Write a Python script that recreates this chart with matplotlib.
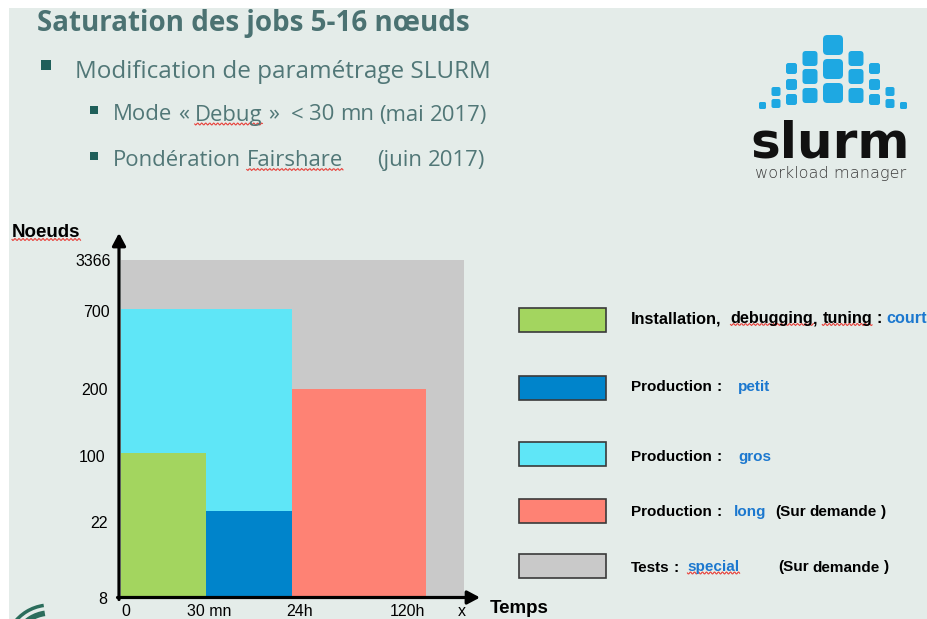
import re
import numpy as np
import matplotlib
matplotlib.use('Agg')
import matplotlib.pyplot as plt
from matplotlib.patches import Rectangle, FancyBboxPatch, Arc

# ---- data -------------------------------------------------------------
y_ticks = [8, 22, 100, 200, 700, 3366]          # noeuds
x_ticks = [0, 0.5, 24, 120]                      # heures
x_tick_labels = ['0', '30 mn', '24h', '120h']

# classes de jobs (ordre de dessin)
job_class = ['special', 'gros', 'court', 'petit', 'long']
t_start = [0, 0, 0, 0.5, 24]
t_end = [None, 24, 0.5, 24, 120]                 # None = pas de limite
nodes_max = [3366, 700, 100, 22, 200]

legend_class = ['court', 'petit', 'gros', 'long', 'special']
legend_prefix = ['Installation,  debugging, tuning : ', 'Production :    ',
                 'Production :    ', 'Production :   ', 'Tests :  ']
legend_suffix = ['', '', '', '  (Sur demande )', '         (Sur demande )']
legend_size = [11.7, 11, 11, 11, 11]

title = 'Saturation des jobs 5-16 nœuds'
bullet1 = 'Modification de paramétrage SLURM'
bullet2 = ['Mode « Debug »  < 30 mn (mai 2017)',
           'Pondération Fairshare      (juin 2017)']

# ---- styles -----------------------------------------------------------
BG = '#e4ece9'
COLORS = {'special': '#c9c9c9', 'gros': '#5fe6f7', 'court': '#a3d55f',
          'petit': '#0084cb', 'long': '#fe8274'}
BLUE = '#1c78cf'
TEAL = '#4b7272'
WAVY = {'Noeuds', 'Debug', 'Fairshare', 'debugging', 'tuning', 'special'}
ARIAL = 'Liberation Sans'
SLIDE = 'Open Sans'


def piecewise(vals, pos):
    vals = np.asarray(vals, float)
    pos = np.asarray(pos, float)
    s = (pos[-1] - pos[-2]) / (vals[-1] - vals[-2])

    def fwd(v):
        v = np.asarray(v, float)
        return np.where(v > vals[-1], pos[-1] + (v - vals[-1]) * s, np.interp(v, vals, pos))

    def inv(p):
        p = np.asarray(p, float)
        return np.where(p > pos[-1], vals[-1] + (p - pos[-1]) / s, np.interp(p, pos, vals))
    return fwd, inv


def rich(ax, x, y, segments, size, space, **kw):
    # mots enchaines de gauche a droite, couleurs differentes
    prev, marked, gap = None, [], 0
    for text, color in segments:
        for sp, word in re.findall(r'( *)([^ ]+)', text):
            gap += len(sp)
            pieces = [word]
            if word.endswith(',') and word[:-1] in WAVY:
                pieces = [word[:-1], ',']
            for k, piece in enumerate(pieces):
                g = gap if k == 0 else 0
                if prev is None:
                    t = ax.text(x, y, piece, color=color, size=size, va='baseline', **kw)
                else:
                    t = ax.annotate(piece, xy=(1, 0), xycoords=prev,
                                    xytext=(g * space * size, 0), textcoords='offset points',
                                    va='bottom', color=color, size=size, **kw)
                if piece in WAVY:
                    marked.append(t)
                prev = t
            gap = 0
        gap += len(text) - len(text.rstrip(' '))
    return marked


fig = plt.figure(figsize=(9.27, 6.19), dpi=100, facecolor='white')
bg = fig.add_axes([0, 0, 1, 1], zorder=0)
bg.set_xlim(0, 927)
bg.set_ylim(619, 0)
bg.axis('off')
bg.add_patch(Rectangle((9, 8), 918, 611, fc=BG, ec='none'))

wavy = []

# ---- titre et puces ---------------------------------------------------
bg.text(37, 31.5, title, family=SLIDE, weight='bold', size=20, color=TEAL, va='baseline')
bg.add_patch(Rectangle((41, 60), 10, 10, fc='#1f5f5a', ec='none'))
bg.text(75, 77.5, bullet1, family=SLIDE, size=17.5, color='#517777', va='baseline')
for yb, line in zip([120.5, 166], bullet2):
    bg.add_patch(Rectangle((90, yb - 14.5), 8, 8, fc='#1f5f5a', ec='none'))
    wavy += rich(bg, 113, yb, [(line, '#517777')], 15.9, 0.26, family=SLIDE)

# ---- logo slurm -------------------------------------------------------
col_dx = [0, 23, 41.5, 57, 70.5]
col_size = [20, 15, 11, 9, 7]
col_tops = [[35, 59, 83], [51, 69, 88], [63, 79, 94], [87, 99], [102]]
for dx, sz, tops in zip(col_dx, col_size, col_tops):
    for sgn in ([1] if dx == 0 else [-1, 1]):
        cx = 833 + sgn * dx
        for top in tops:
            bg.add_patch(FancyBboxPatch((cx - sz / 2, top), sz, sz,
                                        boxstyle='round,pad=0,rounding_size=%g' % (sz * 0.22),
                                        fc='#1ea8e2', ec='none'))
bg.text(830, 157, 'slurm', family='DejaVu Sans', weight='bold', size=36,
        ha='center', va='baseline', color='#111111')
bg.text(831, 178, 'workload manager', family='DejaVu Sans', weight='light', size=11.6,
        ha='center', va='baseline', color='#3a3a3a')

# petit logo en bas a gauche
for r, lw in [(45, 2.5), (37, 4)]:
    bg.add_patch(Arc((50, 650), 2 * r, 2 * r, theta1=215, theta2=262, lw=lw, color='#2b6d5c'))

# ---- graphique --------------------------------------------------------
ax = fig.add_axes([121 / 927, (619 - 597.5) / 619, 343 / 927, 337.5 / 619], zorder=1)
ax.set_facecolor('none')
fy, iy = piecewise(y_ticks, [0, 86.5, 144.5, 208.5, 288.5, 337.5])
fx, ix = piecewise(x_ticks, [0, 85, 171, 304.5])
ax.set_yscale('function', functions=(fy, iy))
ax.set_xscale('function', functions=(fx, ix))
x_right = float(ix(343))
ax.set_xlim(0, x_right)
ax.set_ylim(y_ticks[0], y_ticks[-1])

for name, a, b, n in zip(job_class, t_start, t_end, nodes_max):
    b = x_right if b is None else b
    ax.bar(a, n - y_ticks[0], bottom=y_ticks[0], width=b - a, align='edge',
           color=COLORS[name], edgecolor='none')

for s in ax.spines.values():
    s.set_visible(False)
ax.set_xticks([])
ax.set_yticks([])

# etiquettes placees comme sur la diapo (decalages en pixels)
x_dx = [5, 3, 8, -18, -2]
for v, lab, dx in zip(x_ticks + [x_right], x_tick_labels + ['x'], x_dx):
    ax.annotate(lab, xy=(v, 0), xycoords=('data', 'axes fraction'), xytext=(dx, -7),
                textcoords='offset pixels', ha='center', va='top', family=ARIAL, size=11.5,
                annotation_clip=False)
y_dx = [-14, -13, -16, -13, -11, -10]
y_dy = [0, -11, -3, 0, -2, 0]
for v, dx, dy in zip(y_ticks, y_dx, y_dy):
    ax.annotate(str(v), xy=(0, v), xycoords=('axes fraction', 'data'), xytext=(dx, dy),
                textcoords='offset pixels', ha='right', va='center_baseline', family=ARIAL,
                size=11.5, annotation_clip=False)

arrow = dict(arrowstyle='-|>,head_length=0.75,head_width=0.4', lw=2.3, color='black',
             shrinkA=0, shrinkB=0, mutation_scale=10)
ax.annotate('', xy=(-2 / 343, 1 + 27 / 337.5), xytext=(-2 / 343, -2 / 337.5),
            xycoords='axes fraction', arrowprops=arrow, annotation_clip=False)
ax.annotate('', xy=(359 / 343, 0), xytext=(-3.5 / 343, 0),
            xycoords='axes fraction', arrowprops=arrow, annotation_clip=False)

wavy += rich(bg, 12, 237, [('Noeuds', 'black')], 13.5, 0.278, family=ARIAL, weight='bold')
bg.text(490, 613, 'Temps', family=ARIAL, weight='bold', size=13.5, va='baseline')

# ---- legende ----------------------------------------------------------
box_top = [308, 376, 442, 499, 554]
text_base = [323, 391, 461, 516, 571.5]
for name, pre, suf, size, yt, yb in zip(legend_class, legend_prefix, legend_suffix,
                                        legend_size, box_top, text_base):
    bg.add_patch(Rectangle((519, yt), 87, 24, fc=COLORS[name], ec='#3a3a3a', lw=1.2))
    segs = [(pre, 'black'), (name, BLUE)]
    if suf:
        segs.append((suf, 'black'))
    wavy += rich(bg, 631, yb, segs, size, 0.278, family=ARIAL, weight='bold')

# soulignement ondule (correcteur)
fig.canvas.draw()
rend = fig.canvas.get_renderer()
for t in wavy:
    bb = t.get_window_extent(rend).transformed(bg.transData.inverted())
    xs = np.linspace(bb.x0, bb.x1, 80)
    yb = max(bb.y0, bb.y1) - 1.5
    bg.plot(xs, yb + 1.0 * np.sin(2 * np.pi * (xs - bb.x0) / 4), color='#e8403a', lw=0.8)

fig.savefig('out.png', dpi=100, facecolor=fig.get_facecolor())
